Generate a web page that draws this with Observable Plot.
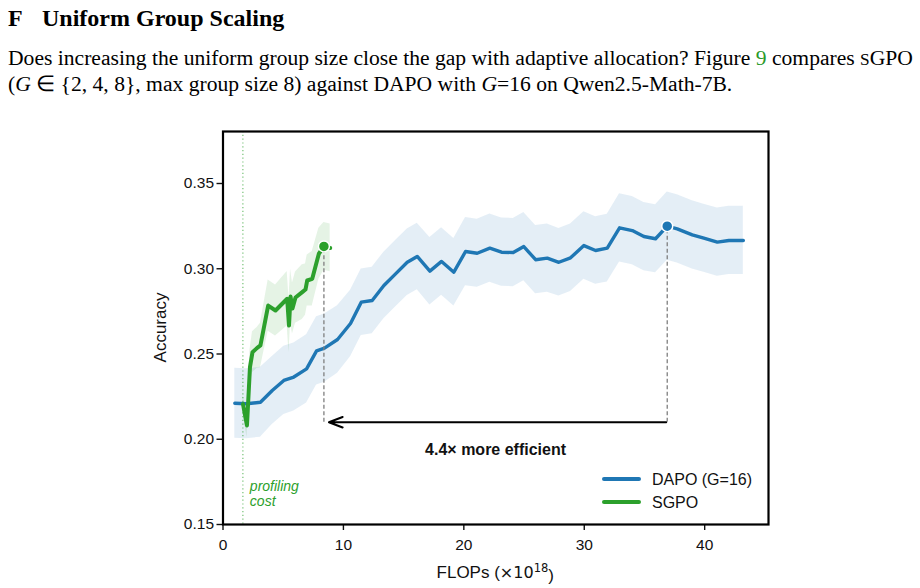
<!DOCTYPE html>
<html>
<head>
<meta charset="utf-8">
<script src="https://cdn.jsdelivr.net/npm/d3@7"></script>
<script src="https://cdn.jsdelivr.net/npm/@observablehq/plot@0.6"></script>
<style>
  html, body { margin: 0; padding: 0; background: #fff; }
  #page { width: 920px; height: 588px; position: relative; overflow: hidden; }
  #head { position: relative; height: 100px; font-family: "Liberation Serif", "Times New Roman", serif; color: #000; }
  #title { position: absolute; left: 8px; top: 6px; font-size: 24px; font-weight: bold; line-height: 24px; white-space: nowrap; }
  #title .num { display: inline-block; width: 34px; }
  #para { position: absolute; left: 8px; top: 46px; font-size: 21.6px; line-height: 24px; white-space: nowrap; }
  #para .ref { color: #2a9a2a; }
  #para .sc { font-size: 0.8em; }
  #chart svg { display: block; }
</style>
</head>
<body>
<div id="page">
  <div id="head">
    <div id="title"><span class="num">F</span>Uniform Group Scaling</div>
    <div id="para">Does increasing the uniform group size close the gap with adaptive allocation? Figure <span class="ref">9</span> compares <span class="sc">S</span>GPO<br>(<i>G</i> ∈ {2, 4, 8}, max group size 8) against DAPO with <i>G</i>=16 on Qwen2.5-Math-7B.</div>
  </div>
  <div id="chart"></div>
</div>
<script>
// DAPO (G=16): cumulative FLOPs (×10^18), mean accuracy and spread across seeds
const dapoFlops = [0.98, 1.95, 3.11, 4.09, 5.05, 5.88, 6.94, 7.77, 8.43, 9.51, 10.59,
  11.48, 12.39, 13.36, 14.33, 15.30, 16.13, 17.18, 18.15, 19.17, 20.14, 21.11,
  22.16, 23.13, 24.10, 24.98, 25.96, 26.93, 27.89, 28.86, 29.97, 30.94, 31.91,
  32.93, 33.99, 34.95, 35.92, 36.89, 37.72, 38.97, 39.93, 41.05, 42.01, 43.21];
const dapoAcc = [0.2211, 0.2208, 0.2217, 0.2286, 0.2345, 0.2365, 0.2413, 0.2518, 0.2534, 0.2585, 0.2679,
  0.2804, 0.2814, 0.2902, 0.2970, 0.3038, 0.3072, 0.2986, 0.3043, 0.2980, 0.3101, 0.3091,
  0.3121, 0.3097, 0.3095, 0.3130, 0.3053, 0.3062, 0.3038, 0.3064, 0.3136, 0.3107, 0.3121,
  0.3240, 0.3224, 0.3189, 0.3176, 0.3250, 0.3234, 0.3199, 0.3179, 0.3156, 0.3166, 0.3166];
const dapoStd = [0.0205, 0.0205, 0.0205, 0.0200, 0.0200, 0.0200, 0.0200, 0.0200, 0.0200, 0.0198, 0.0195,
  0.0195, 0.0195, 0.0195, 0.0195, 0.0195, 0.0195, 0.0198, 0.0198, 0.0198, 0.0200, 0.0200,
  0.0200, 0.0200, 0.0200, 0.0200, 0.0200, 0.0200, 0.0198, 0.0198, 0.0198, 0.0198, 0.0198,
  0.0200, 0.0200, 0.0200, 0.0200, 0.0200, 0.0200, 0.0200, 0.0200, 0.0200, 0.0200, 0.0200];

// SGPO: starts after the profiling pass
const sgpoFlops = [1.66, 1.99, 2.24, 2.45, 2.84, 3.11, 3.75, 4.36, 5.33, 5.48,
  5.61, 5.77, 6.02, 6.58, 6.85, 6.99, 7.41, 7.96, 8.38, 8.90];
const sgpoAcc = [0.2206, 0.2081, 0.2423, 0.2511, 0.2536, 0.2550, 0.2784, 0.2755, 0.2824, 0.2667,
  0.2837, 0.2767, 0.2831, 0.2863, 0.2878, 0.2931, 0.2941, 0.3088, 0.3131, 0.3122];
const sgpoStd = [0.005, 0.007, 0.010, 0.012, 0.012, 0.013, 0.015, 0.015, 0.016, 0.016,
  0.016, 0.015, 0.015, 0.016, 0.015, 0.015, 0.016, 0.015, 0.014, 0.014];

const xTicks = [0, 10, 20, 30, 40];
const yTicks = [0.15, 0.20, 0.25, 0.30, 0.35];
const xDomain = [0, 45.3];
const yDomain = [0.15, 0.3805];

const profilingCost = 1.65;      // FLOPs spent on profiling before SGPO training
const dapoPeakIndex = 37;        // DAPO reaches its best accuracy here
const sgpoPeakIndex = 18;        // SGPO reaches the same level here
const arrowLevel = 0.21;         // height of the efficiency arrow
const arrowTextLevel = 0.194;

const seriesNames = ["DAPO (G=16)", "SGPO"];
const seriesColors = ["#1f77b4", "#2ca02c"];

const dapo = dapoFlops.map((x, i) => ({x, y: dapoAcc[i], lo: dapoAcc[i] - dapoStd[i], hi: dapoAcc[i] + dapoStd[i]}));
const sgpo = sgpoFlops.map((x, i) => ({x, y: sgpoAcc[i], lo: sgpoAcc[i] - sgpoStd[i], hi: sgpoAcc[i] + sgpoStd[i]}));
const dapoPeak = dapo[dapoPeakIndex];
const sgpoPeak = sgpo[sgpoPeakIndex];
const speedup = dapoPeak.x / sgpoPeak.x;

const [blue, green] = seriesColors;
const sans = "'Liberation Sans', Arial, Helvetica, sans-serif";

// Legend drawn inside the lower-right corner of the frame
function legend(index, scales, values, dim) {
  const g = d3.create("svg:g").attr("font-family", sans).attr("text-anchor", "start");
  const right = dim.width - dim.marginRight;
  const bottom = dim.height - dim.marginBottom;
  seriesNames.forEach((name, k) => {
    const y = bottom - 45 + k * 23;
    g.append("line")
      .attr("x1", right - 164).attr("x2", right - 129)
      .attr("y1", y).attr("y2", y)
      .attr("stroke", seriesColors[k]).attr("stroke-width", 4)
      .attr("stroke-linecap", "round");
    g.append("text")
      .attr("x", right - 116).attr("y", y).attr("dy", "0.36em")
      .attr("font-size", 16).attr("fill", "#111")
      .text(name);
  });
  return g.node();
}

// Axis titles, with a raised exponent on the x title
function axisTitles(index, scales, values, dim) {
  const g = d3.create("svg:g").attr("font-family", sans).attr("fill", "#111").attr("text-anchor", "middle");
  const left = dim.marginLeft;
  const right = dim.width - dim.marginRight;
  const top = dim.marginTop;
  const bottom = dim.height - dim.marginBottom;
  const xt = g.append("text")
    .attr("x", (left + right) / 2).attr("y", bottom + 48).attr("dy", "0.35em")
    .attr("font-size", 17);
  xt.append("tspan").text("FLOPs (");
  xt.append("tspan").attr("font-family", "'DejaVu Sans', sans-serif").attr("font-size", 16).text("×10");
  xt.append("tspan").attr("font-family", "'DejaVu Sans', sans-serif").attr("font-size", 11.5).attr("dy", "-0.55em").text("18");
  xt.append("tspan").attr("dy", "0.55em").text(")");
  g.append("text")
    .attr("transform", `translate(${left - 62},${(top + bottom) / 2}) rotate(-90)`)
    .attr("dy", "0.35em").attr("font-size", 17)
    .text("Accuracy");
  return g.node();
}

const chart = Plot.plot({
  width: 920,
  height: 488,
  marginTop: 31,
  marginBottom: 64,
  marginLeft: 222.5,
  marginRight: 152,
  x: {domain: xDomain, label: null},
  y: {domain: yDomain, label: null},
  style: {fontFamily: sans, fontSize: "15px", color: "#111", background: "#fff", overflow: "visible"},
  marks: [
    // shaded spread bands
    Plot.areaY(dapo, {x: "x", y1: "lo", y2: "hi", fill: blue, fillOpacity: 0.12}),
    // profiling cost marker
    Plot.ruleX([profilingCost], {stroke: green, strokeOpacity: 0.6, strokeWidth: 1.3, strokeDasharray: "1.2,2.6"}),
    Plot.line(dapo, {x: "x", y: "y", stroke: blue, strokeWidth: 3.4, strokeLinejoin: "round", strokeLinecap: "round"}),
    Plot.areaY(sgpo, {x: "x", y1: "lo", y2: "hi", fill: green, fillOpacity: 0.12}),
    Plot.line(sgpo, {x: "x", y: "y", stroke: green, strokeWidth: 4, strokeLinejoin: "round", strokeLinecap: "round"}),
    // drop lines from the matched accuracy points
    Plot.ruleX([sgpoPeak, dapoPeak], {x: "x", y1: arrowLevel, y2: "y", stroke: "#7f7f7f", strokeWidth: 1.3, strokeDasharray: "4,2.5"}),
    Plot.dot([dapoPeak], {x: "x", y: "y", r: 5.5, fill: blue, stroke: "white", strokeWidth: 1.5}),
    Plot.dot([sgpoPeak], {x: "x", y: "y", r: 5.5, fill: green, stroke: "white", strokeWidth: 1.5}),
    Plot.arrow([{x1: dapoPeak.x, x2: sgpoPeak.x}], {
      x1: "x1", x2: "x2", y1: arrowLevel, y2: arrowLevel,
      stroke: "black", strokeWidth: 2, headLength: 11, headAngle: 42, insetStart: 1, insetEnd: 5
    }),
    Plot.text([`${speedup.toFixed(1)}× more efficient`], {
      x: (dapoPeak.x + sgpoPeak.x) / 2, y: arrowTextLevel,
      fontWeight: "bold", fontSize: 16, fill: "#111"
    }),
    Plot.text(["profiling\ncost"], {
      x: profilingCost, y: 0.168, dx: 7, textAnchor: "start", lineAnchor: "middle",
      lineHeight: 1.07, fontStyle: "italic", fontSize: 14, fill: green
    }),
    // axes
    Plot.axisX({ticks: xTicks, tickSize: 6, tickPadding: 8, tickFormat: d3.format("d"), strokeWidth: 1.4, fontSize: 15.5, label: null}),
    Plot.axisY({ticks: yTicks, tickSize: 6, tickPadding: 3, tickFormat: d3.format(".2f"), strokeWidth: 1.4, fontSize: 15.5, label: null}),
    axisTitles,
    Plot.frame({stroke: "black", strokeWidth: 2.2}),
    legend
  ]
});

document.getElementById("chart").appendChild(chart);
</script>
</body>
</html>
